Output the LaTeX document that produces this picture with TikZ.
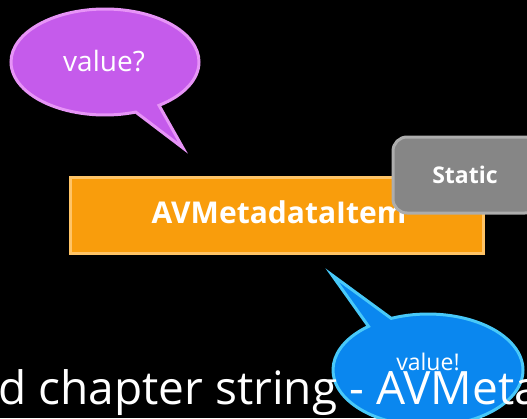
\documentclass[tikz,border=0pt]{standalone}
\usepackage{fontspec}
\setmainfont{Open Sans}
\usetikzlibrary{positioning, shapes.callouts}
\definecolor{bubblepurple}{HTML}{C55BEB}
\definecolor{bubblepurpleedge}{HTML}{E794F7}
\definecolor{bubbleblue}{HTML}{0A87EF}
\definecolor{bubbleblueedge}{HTML}{48C9F9}
\definecolor{itemorange}{HTML}{F99D0C}
\definecolor{itemorangeedge}{HTML}{FFC466}
\definecolor{taggray}{HTML}{868686}
\definecolor{taggrayedge}{HTML}{ADADAD}

\begin{document}
\begin{tikzpicture}[x=1pt, y=-1pt, line width=3pt, text=white,
    bubble/.style={ellipse callout, draw, inner sep=0pt, minimum width=188pt, minimum height=106pt, callout pointer arc=16},
    itembox/.style={rectangle, draw=itemorangeedge, fill=itemorange, minimum width=413pt, minimum height=76pt, inner sep=0pt},
    tagbox/.style={rectangle, rounded corners=14pt, draw=taggrayedge, fill=taggray, minimum width=146pt, minimum height=76pt, inner sep=0pt}]
      \fill[black] (0,0) rectangle (527,418);
      \useasboundingbox (0,0) rectangle (527,418);
      \clip (0,0) rectangle (527,418);

      \node[itembox] (item) at (276.5,215) {};
      \node[font=\bfseries\fontsize{30}{36}\selectfont] (itemtext) at (279,212) {AVMetadataItem};
      \node[tagbox] (static) at (466,175) {};
      \node[font=\bfseries\fontsize{23}{28}\selectfont] (statictext) at (465,175) {Static};

      \node[bubble, draw=bubblepurpleedge, fill=bubblepurple, callout absolute pointer={(183,148)}] (ask) at (105,62) {};
      \node[font=\fontsize{28}{33}\selectfont] (asktext) at (104,61) {value?};

      \node[bubble, draw=bubbleblueedge, fill=bubbleblue, callout absolute pointer={(332,275)}, minimum width=190pt, minimum height=112pt] (answer) at (428,370) {};
      \node[font=\fontsize{23}{27}\selectfont] (answertext) at (428,362) {value!};

      \node[anchor=base west, inner sep=0pt, font=\fontsize{46}{54}\selectfont] (title) at (-3,404) {d chapter string - AVMeta};
    \end{tikzpicture}
\end{document}
